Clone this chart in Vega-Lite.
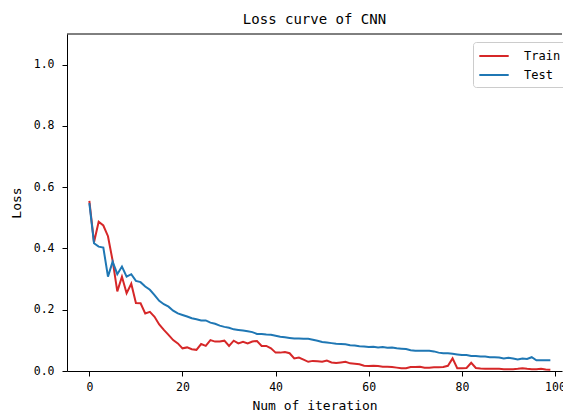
{
"$schema": "https://vega.github.io/schema/vega-lite/v6.json",
"autosize": "none",
"width": 495,
"height": 337,
"padding": {"left": 67, "top": 34, "right": 1, "bottom": 41},
"background": "white",
"title": {"text": "Loss curve of CNN", "font": "DejaVu Sans Mono", "fontSize": 14, "fontWeight": "normal", "color": "#000000", "offset": -4, "baseline": "alphabetic"},
"config": {
  "view": {"stroke": null},
  "axis": {"domainColor": "#000000", "domainWidth": 1, "tickColor": "#000000", "tickWidth": 1, "tickSize": 5, "grid": false, "labelColor": "#000000", "labelFont": "DejaVu Sans Mono", "labelFontSize": 11.5, "titleFont": "DejaVu Sans Mono", "titleFontSize": 13, "titleFontWeight": "normal", "titleColor": "#000000"}
},
"data": {"values": [
{"i":0,"Train":0.555,"Test":0.548},{"i":1,"Train":0.42,"Test":0.417},{"i":2,"Train":0.487,"Test":0.406},{"i":3,"Train":0.475,"Test":0.403},{"i":4,"Train":0.44,"Test":0.308},
{"i":5,"Train":0.36,"Test":0.357},{"i":6,"Train":0.26,"Test":0.316},{"i":7,"Train":0.308,"Test":0.341},{"i":8,"Train":0.254,"Test":0.308},{"i":9,"Train":0.285,"Test":0.316},
{"i":10,"Train":0.222,"Test":0.294},{"i":11,"Train":0.221,"Test":0.29},{"i":12,"Train":0.188,"Test":0.276},{"i":13,"Train":0.193,"Test":0.265},{"i":14,"Train":0.177,"Test":0.248},
{"i":15,"Train":0.152,"Test":0.229},{"i":16,"Train":0.134,"Test":0.218},{"i":17,"Train":0.118,"Test":0.21},{"i":18,"Train":0.101,"Test":0.197},{"i":19,"Train":0.09,"Test":0.188},
{"i":20,"Train":0.074,"Test":0.183},{"i":21,"Train":0.077,"Test":0.178},{"i":22,"Train":0.071,"Test":0.172},{"i":23,"Train":0.069,"Test":0.169},{"i":24,"Train":0.088,"Test":0.165},
{"i":25,"Train":0.082,"Test":0.165},{"i":26,"Train":0.101,"Test":0.158},{"i":27,"Train":0.096,"Test":0.154},{"i":28,"Train":0.096,"Test":0.148},{"i":29,"Train":0.099,"Test":0.144},
{"i":30,"Train":0.082,"Test":0.141},{"i":31,"Train":0.099,"Test":0.136},{"i":32,"Train":0.09,"Test":0.134},{"i":33,"Train":0.095,"Test":0.132},{"i":34,"Train":0.09,"Test":0.13},
{"i":35,"Train":0.096,"Test":0.127},{"i":36,"Train":0.098,"Test":0.121},{"i":37,"Train":0.082,"Test":0.121},{"i":38,"Train":0.082,"Test":0.119},{"i":39,"Train":0.074,"Test":0.118},
{"i":40,"Train":0.06,"Test":0.115},{"i":41,"Train":0.06,"Test":0.112},{"i":42,"Train":0.062,"Test":0.11},{"i":43,"Train":0.058,"Test":0.108},{"i":44,"Train":0.041,"Test":0.106},
{"i":45,"Train":0.044,"Test":0.106},{"i":46,"Train":0.037,"Test":0.105},{"i":47,"Train":0.03,"Test":0.105},{"i":48,"Train":0.033,"Test":0.102},{"i":49,"Train":0.032,"Test":0.099},
{"i":50,"Train":0.03,"Test":0.095},{"i":51,"Train":0.034,"Test":0.093},{"i":52,"Train":0.028,"Test":0.091},{"i":53,"Train":0.026,"Test":0.089},{"i":54,"Train":0.028,"Test":0.088},
{"i":55,"Train":0.03,"Test":0.087},{"i":56,"Train":0.025,"Test":0.084},{"i":57,"Train":0.024,"Test":0.083},{"i":58,"Train":0.022,"Test":0.081},{"i":59,"Train":0.017,"Test":0.08},
{"i":60,"Train":0.016,"Test":0.078},{"i":61,"Train":0.017,"Test":0.079},{"i":62,"Train":0.016,"Test":0.077},{"i":63,"Train":0.014,"Test":0.078},{"i":64,"Train":0.014,"Test":0.076},
{"i":65,"Train":0.013,"Test":0.077},{"i":66,"Train":0.011,"Test":0.074},{"i":67,"Train":0.009,"Test":0.073},{"i":68,"Train":0.009,"Test":0.072},{"i":69,"Train":0.013,"Test":0.068},
{"i":70,"Train":0.013,"Test":0.066},{"i":71,"Train":0.014,"Test":0.066},{"i":72,"Train":0.011,"Test":0.066},{"i":73,"Train":0.011,"Test":0.066},{"i":74,"Train":0.012,"Test":0.064},
{"i":75,"Train":0.012,"Test":0.06},{"i":76,"Train":0.013,"Test":0.058},{"i":77,"Train":0.017,"Test":0.058},{"i":78,"Train":0.041,"Test":0.056},{"i":79,"Train":0.009,"Test":0.054},
{"i":80,"Train":0.009,"Test":0.052},{"i":81,"Train":0.01,"Test":0.052},{"i":82,"Train":0.027,"Test":0.049},{"i":83,"Train":0.01,"Test":0.049},{"i":84,"Train":0.008,"Test":0.047},
{"i":85,"Train":0.007,"Test":0.047},{"i":86,"Train":0.007,"Test":0.045},{"i":87,"Train":0.007,"Test":0.045},{"i":88,"Train":0.007,"Test":0.044},{"i":89,"Train":0.006,"Test":0.041},
{"i":90,"Train":0.006,"Test":0.043},{"i":91,"Train":0.006,"Test":0.041},{"i":92,"Train":0.007,"Test":0.038},{"i":93,"Train":0.009,"Test":0.041},{"i":94,"Train":0.007,"Test":0.039},
{"i":95,"Train":0.006,"Test":0.045},{"i":96,"Train":0.006,"Test":0.035},{"i":97,"Train":0.007,"Test":0.035},{"i":98,"Train":0.005,"Test":0.035},{"i":99,"Train":0.004,"Test":0.035}
]},
"layer": [
  {
    "transform": [{"fold": ["Train", "Test"], "as": ["set", "loss"]}],
    "mark": {"type": "line", "strokeWidth": 2, "clip": true},
    "encoding": {
      "x": {"field": "i", "type": "quantitative", "scale": {"domain": [-4.8, 101.5], "nice": false, "zero": false}, "axis": {"values": [0, 20, 40, 60, 80, 100], "title": "Num of iteration", "labelPadding": 5, "titlePadding": 7}},
      "y": {"field": "loss", "type": "quantitative", "scale": {"domain": [0, 1.1], "nice": false}, "axis": {"values": [0, 0.2, 0.4, 0.6, 0.8, 1.0], "format": ".1f", "title": "Loss", "labelPadding": 8, "titlePadding": 10}},
      "color": {"field": "set", "type": "nominal", "scale": {"domain": ["Train", "Test"], "range": ["#d62728", "#1f77b4"]},
        "legend": {"title": null, "orient": "none", "legendX": 406, "legendY": 8, "symbolType": "M-2.1,0L2.1,0", "symbolSize": 196, "symbolStrokeWidth": 2, "symbolOffset": 7, "labelOffset": 22, "padding": 6, "rowPadding": 5, "fillColor": "white", "strokeColor": "#cccccc", "cornerRadius": 3, "labelFont": "DejaVu Sans Mono", "labelFontSize": 12, "labelColor": "#000000"}}
    }
  },
  {
    "data": {"values": [{"top": 1.1}]},
    "mark": {"type": "rule", "color": "#000000", "strokeWidth": 1},
    "encoding": {"y": {"field": "top", "type": "quantitative"}}
  }
]
}
